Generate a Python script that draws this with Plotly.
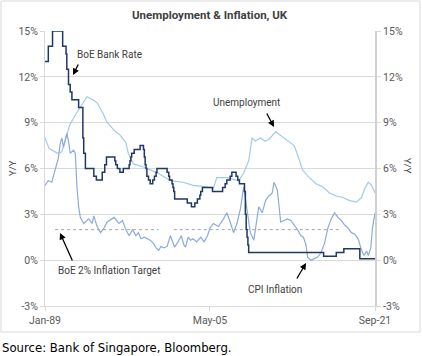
import plotly.graph_objects as go

# ---------------- data ----------------
bank_dates = ["1989-01", "1989-05", "1989-10", "1990-10", "1991-02", "1991-03", "1991-05",
              "1991-07", "1991-09", "1992-05", "1992-10", "1992-11", "1993-01", "1993-11",
              "1994-02", "1994-09", "1994-12", "1995-02", "1995-12", "1996-01", "1996-03",
              "1996-06", "1996-10", "1997-05", "1997-06", "1997-07", "1997-08", "1997-11",
              "1998-06", "1998-10", "1998-11", "1998-12", "1999-01", "1999-02", "1999-04",
              "1999-06", "1999-09", "1999-11", "2000-01", "2000-02", "2001-02", "2001-04",
              "2001-05", "2001-08", "2001-09", "2001-10", "2001-11", "2003-02", "2003-07",
              "2003-11", "2004-02", "2004-05", "2004-06", "2004-08", "2005-08", "2006-08",
              "2006-11", "2007-01", "2007-05", "2007-07", "2007-12", "2008-02", "2008-04",
              "2008-10", "2008-11", "2008-12", "2009-01", "2009-02", "2009-03", "2016-08",
              "2017-11", "2018-08", "2020-03", "2021-09"]
bank_rate = [13, 14, 15, 14, 13.5, 12.5, 11.5,
             11, 10.5, 10, 8, 7, 6, 5.5,
             5.25, 5.75, 6.25, 6.75, 6.5, 6.25, 6.0,
             5.75, 6.0, 6.25, 6.5, 6.75, 7.0, 7.25,
             7.5, 7.25, 6.75, 6.25, 6.0, 5.5, 5.25,
             5.0, 5.25, 5.5, 5.75, 6.0, 5.75, 5.5,
             5.25, 5.0, 4.75, 4.5, 4.0, 3.75, 3.5,
             3.75, 4.0, 4.25, 4.5, 4.75, 4.5, 4.75,
             5.0, 5.25, 5.5, 5.75, 5.5, 5.25, 5.0,
             4.5, 3.0, 2.0, 1.5, 1.0, 0.5, 0.25,
             0.5, 0.75, 0.1, 0.1]

unemp_dates = ["1989-01", "1989-06", "1990-04", "1990-09", "1991-01", "1991-06", "1992-01",
               "1992-06", "1992-10", "1993-03", "1993-10", "1994-03", "1994-10", "1995-03",
               "1996-01", "1996-06", "1997-01", "1997-04", "1997-10", "1998-10", "2000-03",
               "2001-06", "2002-09", "2003-09", "2005-01", "2005-09", "2006-01", "2007-01",
               "2008-03", "2008-09", "2009-03", "2009-07", "2009-11", "2010-05", "2010-10",
               "2011-03", "2011-11", "2012-06", "2013-01", "2013-09", "2014-01", "2014-07",
               "2015-03", "2015-11", "2016-07", "2017-03", "2017-11", "2018-07", "2019-03",
               "2019-11", "2020-05", "2020-09", "2021-01", "2021-05", "2021-09"]
unemployment = [8.0, 7.3, 7.0, 7.1, 7.8, 8.8, 9.5,
                9.9, 10.3, 10.7, 10.5, 10.3, 9.6, 9.0,
                8.4, 8.2, 7.7, 7.0, 6.3, 6.1, 5.7,
                5.2, 5.1, 4.9, 4.8, 4.7, 5.4, 5.4,
                5.2, 5.7, 6.5, 8.0, 7.8, 8.0, 7.8,
                7.9, 8.4, 8.1, 7.8, 7.5, 6.9, 5.9,
                5.4, 5.0, 4.8, 4.4, 4.2, 4.1, 3.9,
                3.8, 4.1, 4.7, 5.1, 4.9, 4.4]

cpi_dates = ["1989-01", "1989-05", "1989-09", "1990-01", "1990-05", "1990-07", "1990-09",
             "1990-11", "1991-03", "1991-05", "1991-07", "1991-11", "1992-01", "1992-03",
             "1992-05", "1992-07", "1992-11", "1993-05", "1993-09", "1993-11", "1994-03",
             "1994-07", "1994-11", "1995-03", "1995-11", "1996-05", "1996-09", "1997-01",
             "1997-05", "1997-09", "1998-01", "1998-04", "1998-07", "1998-11", "1999-03",
             "1999-06", "1999-10", "2000-01", "2000-04", "2000-07", "2000-10", "2001-02",
             "2001-06", "2001-09", "2001-11", "2002-03", "2002-07", "2002-10", "2002-12",
             "2003-03", "2003-06", "2003-09", "2004-01", "2004-06", "2004-10", "2005-02",
             "2005-05", "2005-09", "2006-03", "2006-08", "2007-01", "2007-05", "2007-09",
             "2008-01", "2008-05", "2008-09", "2009-01", "2009-05", "2009-09", "2010-03",
             "2010-07", "2010-11", "2011-03", "2011-07", "2011-09", "2012-01", "2012-05",
             "2012-09", "2013-01", "2013-05", "2013-09", "2014-01", "2014-05", "2014-08",
             "2014-11", "2015-01", "2015-05", "2015-09", "2016-01", "2016-05", "2016-09",
             "2017-01", "2017-05", "2017-09", "2018-01", "2018-05", "2018-09", "2019-01",
             "2019-05", "2019-09", "2020-01", "2020-05", "2020-08", "2020-11", "2021-01",
             "2021-04", "2021-06", "2021-09"]
cpi = [4.9, 5.2, 5.1, 5.9, 6.7, 7.6, 8.0,
       7.4, 8.3, 7.8, 7.0, 7.2, 7.0, 4.8,
       3.5, 2.8, 2.4, 2.7, 2.4, 2.9, 2.2,
       1.8, 2.1, 2.5, 2.8, 2.4, 2.6, 2.0,
       1.6, 2.0, 1.6, 1.8, 1.4, 1.5, 1.4,
       1.3, 1.1, 0.8, 0.65, 0.9, 0.8, 0.9,
       1.6, 1.2, 0.85, 1.2, 1.6, 1.0, 0.85,
       1.5, 1.3, 1.4, 1.2, 1.5, 1.2, 1.6,
       2.1, 2.4, 2.2, 2.6, 3.1, 2.5, 1.8,
       2.4, 3.3, 4.8, 3.1, 1.8, 1.3, 3.5,
       3.1, 3.9, 4.2, 4.4, 5.1, 4.6, 2.5,
       2.6, 2.7, 2.6, 2.3, 2.0, 1.6, 1.5,
       1.0, 0.2, 0.0, 0.1, 0.2, 0.5, 1.1,
       2.1, 2.7, 3.1, 2.8, 2.6, 2.3, 2.1,
       1.8, 1.7, 1.4, 0.65, 0.3, 0.6, 0.3,
       0.8, 2.1, 3.1]

target_dates = ["1990-01", "2000-04", None, "2001-10", "2018-04"]
target_values = [2, 2, None, 2, 2]

x_ticks = ["1989-01-01", "2005-05-01", "2021-09-01"]
x_tick_labels = ["Jan-89", "May-05", "Sep-21"]
y_ticks = [-3, 0, 3, 6, 9, 12, 15]
y_tick_labels = ["-3%", "0%", "3%", "6%", "9%", "12%", "15%"]

# ---------------- styles ----------------
FONT = "Roboto, Liberation Sans, sans-serif"
TXT = "#404040"
GRID = "#d9d9d9"

fig = go.Figure()
fig.add_trace(go.Scatter(x=target_dates, y=target_values, mode="lines",
                         line=dict(color="#a6a6a6", width=1, dash="dot"),
                         connectgaps=False, hoverinfo="skip"))
fig.add_trace(go.Scatter(x=unemp_dates, y=unemployment, mode="lines",
                         line=dict(color="#a4c8eb", width=1.2)))
fig.add_trace(go.Scatter(x=cpi_dates, y=cpi, mode="lines",
                         line=dict(color="#8eaadb", width=1.2)))
fig.add_trace(go.Scatter(x=bank_dates, y=bank_rate, mode="lines", line_shape="hv",
                         line=dict(color="#203864", width=1.5)))
# invisible trace to activate the right-hand axis
fig.add_trace(go.Scatter(x=[x_ticks[0]], y=[0], yaxis="y2", mode="markers",
                         marker=dict(opacity=0), hoverinfo="skip"))

tickfont = dict(family=FONT, size=10.5, color="#595959")

fig.update_layout(
    width=422, height=356,
    margin=dict(l=45, r=47, t=31, b=50),
    paper_bgcolor="white", plot_bgcolor="white",
    showlegend=False,
    xaxis=dict(type="date", range=["1989-01-01", "2021-09-01"],
               tickvals=x_ticks, ticktext=x_tick_labels, tickfont=tickfont,
               showgrid=False, zeroline=False, showline=True, linecolor=GRID,
               ticks="outside", ticklen=4, tickcolor=GRID),
    yaxis=dict(range=[-3, 15], tickvals=y_ticks, ticktext=y_tick_labels, tickfont=tickfont,
               showgrid=True, gridcolor=GRID, gridwidth=1, zeroline=False,
               showline=True, linecolor=GRID, ticks="outside", ticklen=4, tickcolor=GRID),
    yaxis2=dict(range=[-3, 15], tickvals=y_ticks, ticktext=y_tick_labels, tickfont=tickfont,
                overlaying="y", side="right", showgrid=False, zeroline=False,
                showline=True, linecolor="#d0d0d0", linewidth=2,
                ticks="outside", ticklen=4, tickcolor=GRID),
)

def px(xp, yp):
    """pixel position in the 422x356 canvas -> paper coordinates"""
    return (xp - 45) / 330.0, (306 - yp) / 275.0

annotations = []
# title
tx, ty = px(210, 15)
annotations.append(dict(x=tx, y=ty, xref="paper", yref="paper", showarrow=False,
                        xanchor="center", yanchor="middle",
                        text="<b>Unemployment & Inflation, UK</b>",
                        font=dict(family=FONT, size=11.5, color=TXT)))
# axis titles
lx, ly = px(12, 168)
annotations.append(dict(x=lx, y=ly, xref="paper", yref="paper", showarrow=False,
                        xanchor="center", yanchor="middle",
                        text="Y/Y", textangle=-90, font=dict(family=FONT, size=9.5, color=TXT)))
rx, ry = px(408, 166)
annotations.append(dict(x=rx, y=ry, xref="paper", yref="paper", showarrow=False,
                        xanchor="center", yanchor="middle",
                        text="Y/Y", textangle=90, font=dict(family=FONT, size=9.5, color=TXT)))
# source
sx, sy = px(0, 348)
annotations.append(dict(x=sx, y=sy, xref="paper", yref="paper", showarrow=False,
                        xanchor="left", yanchor="middle",
                        text="Source: Bank of Singapore, Bloomberg.",
                        font=dict(family="DejaVu Sans, sans-serif", size=11.7, color="#000000")))

labels = [
    ("BoE Bank Rate", (109, 54), (73, 75), (79, 63)),
    ("Unemployment", (247, 102), (274, 127), (266, 112)),
    ("BoE 2% Inflation Target", (109, 270), (60, 233), (73, 262)),
    ("CPI Inflation", (275, 289), (306, 263), (296, 280)),
]
for text, (cx, cy), (hx, hy), (tx2, ty2) in labels:
    ax_, ay_ = px(cx, cy)
    annotations.append(dict(x=ax_, y=ay_, xref="paper", yref="paper", showarrow=False,
                            xanchor="center", yanchor="middle",
                            text=text, font=dict(family=FONT, size=10, color=TXT)))
    hx_, hy_ = px(hx, hy)
    annotations.append(dict(x=hx_, y=hy_, xref="paper", yref="paper", text="",
                            showarrow=True, arrowhead=2, arrowsize=1, arrowwidth=1.3,
                            arrowcolor="#000000", ax=tx2 - hx, ay=ty2 - hy))
fig.update_layout(annotations=annotations)

# outer chart frame
fx0, fy0 = px(1, 332)
fx1, fy1 = px(420, 1)
fig.add_shape(type="rect", xref="paper", yref="paper", x0=fx0, y0=fy0, x1=fx1, y1=fy1,
              line=dict(color="#d9d9d9", width=1), layer="below")

# remove the default 8px page margin so the figure sits at the window's origin
fig.write_html("out.html", config={"displayModeBar": False},
               post_script="document.body.style.margin='0';")
